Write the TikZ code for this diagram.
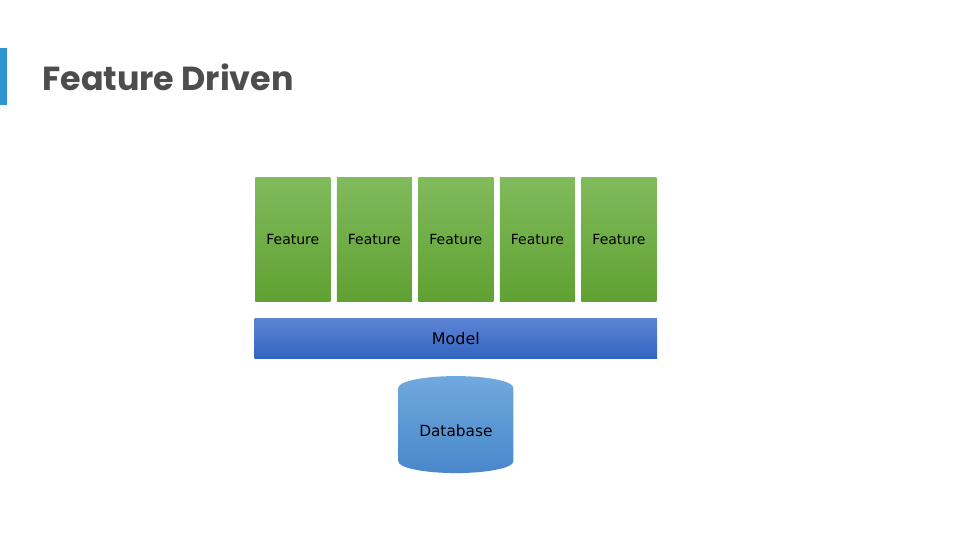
\documentclass[tikz,border=0pt]{standalone}
\usepackage{fontspec}
\setmainfont{DejaVu Sans}
\newfontfamily\titlefont{Poppins}
\usetikzlibrary{positioning, shapes.geometric}

\definecolor{titlegray}{HTML}{4D4D4D}
\definecolor{accentblue}{HTML}{2E95D0}
\definecolor{featuretop}{HTML}{80BB5C}
\definecolor{featurebot}{HTML}{60A132}
\definecolor{modeltop}{HTML}{5C84D5}
\definecolor{modelbot}{HTML}{3264C0}
\definecolor{dbtop}{HTML}{70A9DD}
\definecolor{dbbot}{HTML}{4887CB}

\begin{document}
\begin{tikzpicture}[node distance=4.5pt, every node/.style={align=center, inner sep=0pt},
    featurebox/.style={rectangle, minimum width=56.25pt, minimum height=93pt, top color=featuretop, bottom color=featurebot, font=\fontsize{10.5}{12}\selectfont},
    modelbar/.style={rectangle, minimum width=302pt, minimum height=30pt, top color=modeltop, bottom color=modelbot, font=\fontsize{12}{14}\selectfont},
    dbstore/.style={cylinder, shape border rotate=90, aspect=0.32, minimum width=86.25pt, minimum height=72.75pt, top color=dbtop, bottom color=dbbot, font=\fontsize{11.5}{13}\selectfont}]
    \useasboundingbox (0,0) rectangle (720pt,-405pt);
    % Title
    \fill[accentblue] (0,-36pt) rectangle (5.25pt,-78.75pt);
    \node[anchor=base west, text=titlegray, font=\titlefont\bfseries\fontsize{25}{29}\selectfont] (title) at (31.5pt,-67.5pt) {Feature Driven};

    % Nodes
    \node[featurebox] (feat1) at (219.6pt,-179.25pt) {Feature};
    \node[featurebox, right=of feat1] (feat2) {Feature};
    \node[featurebox, right=of feat2] (feat3) {Feature};
    \node[featurebox, right=of feat3] (feat4) {Feature};
    \node[featurebox, right=of feat4] (feat5) {Feature};
    \node[modelbar, below=12.75pt of feat3] (model) {Model};
    \node[dbstore, below=12.75pt of model] (db) {\raisebox{-2pt}{Database}};
\end{tikzpicture}
\end{document}
